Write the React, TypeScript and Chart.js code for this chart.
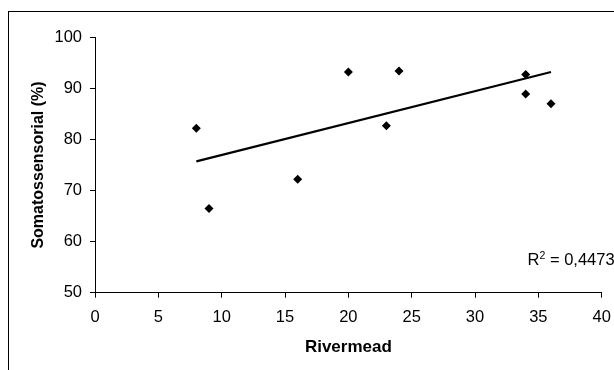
import React, { useEffect, useRef } from "react";
import { Chart, registerables } from "chart.js";

Chart.register(...registerables);

// ---- data ----
const rivermead = [8, 9, 16, 20, 23, 24, 34, 34, 36];
const somatossensorial = [82.2, 66.5, 72.2, 93.2, 82.7, 93.4, 92.7, 88.9, 87.0];
const trendX = [8, 36];
const trendY = [75.7, 93.2];
const xRange = [0, 40];
const xStep = 5;
const yRange = [50, 100];
const yStep = 10;
const xTitle = "Rivermead";
const yTitle = "Somatossensorial (%)";
const r2Value = "0,4473";
const r2Anchor = [34.15, 55.4];

const FONT = '"Liberation Sans", Arial, Helvetica, sans-serif';

export default function App() {
  const ref = useRef<HTMLCanvasElement | null>(null);

  useEffect(() => {
    document.body.style.margin = "0";
    document.body.style.overflow = "hidden";
    document.documentElement.style.overflow = "hidden";
    const canvas = ref.current;
    if (!canvas) return;

    const framePlugin = {
      id: "frame",
      beforeDraw(chart: any) {
        const ctx = chart.ctx;
        ctx.save();
        ctx.strokeStyle = "#000";
        ctx.lineWidth = 1;
        ctx.strokeRect(8.5, 11.5, 800, 600);
        ctx.restore();
      },
    };

    const r2Plugin = {
      id: "r2",
      afterDraw(chart: any) {
        const { ctx } = chart;
        const xs = chart.scales.x;
        const ys = chart.scales.y;
        const px = xs.getPixelForValue(r2Anchor[0]);
        const py = ys.getPixelForValue(r2Anchor[1]);
        ctx.save();
        ctx.fillStyle = "#000";
        ctx.textAlign = "left";
        ctx.textBaseline = "alphabetic";
        ctx.font = `16.5px ${FONT}`;
        ctx.fillText("R", px, py);
        let w = ctx.measureText("R").width;
        ctx.font = `10.5px ${FONT}`;
        ctx.fillText("2", px + w, py - 6);
        w += ctx.measureText("2").width;
        ctx.font = `16.5px ${FONT}`;
        ctx.fillText(" = " + r2Value, px + w, py);
        ctx.restore();
      },
    };

    const chart = new Chart(canvas, {
      type: "scatter",
      data: {
        datasets: [
          {
            type: "scatter",
            data: rivermead.map((x, i) => ({ x, y: somatossensorial[i] })),
            pointStyle: "rectRot",
            pointRadius: 4.5,
            pointBackgroundColor: "#000",
            pointBorderColor: "#000",
            pointBorderWidth: 0,
            order: 1,
          },
          {
            type: "line",
            data: trendX.map((x, i) => ({ x, y: trendY[i] })),
            borderColor: "#000",
            borderWidth: 2.2,
            pointRadius: 0,
            fill: false,
            order: 2,
          } as any,
        ],
      },
      options: {
        responsive: false,
        animation: false,
        events: [],
        layout: { padding: { left: 0, top: 37.3, right: 12.3, bottom: 0 } },
        plugins: {
          legend: { display: false },
          tooltip: { enabled: false },
        },
        scales: {
          x: {
            type: "linear",
            min: xRange[0],
            max: xRange[1],
            afterFit(scale: any) {
              scale.height = 77.3;
              scale.paddingLeft = 0;
              scale.paddingRight = 0;
            },
            ticks: {
              stepSize: xStep,
              color: "#000",
              padding: 10,
              font: { family: FONT, size: 16.5 },
            },
            grid: {
              drawOnChartArea: false,
              drawTicks: true,
              tickLength: 5,
              color: "#000",
            },
            border: { display: true, color: "#000", width: 1 },
            title: {
              display: true,
              text: xTitle,
              color: "#000",
              font: { family: FONT, size: 17, weight: "bold" },
              padding: { top: 0, bottom: 12.6 },
            },
          },
          y: {
            type: "linear",
            min: yRange[0],
            max: yRange[1],
            afterFit(scale: any) {
              scale.width = 95;
              scale.paddingTop = 0;
              scale.paddingBottom = 0;
            },
            ticks: {
              stepSize: yStep,
              color: "#000",
              padding: 8,
              font: { family: FONT, size: 16.5 },
            },
            grid: {
              drawOnChartArea: false,
              drawTicks: true,
              tickLength: 5,
              color: "#000",
            },
            border: { display: true, color: "#000", width: 1 },
            title: {
              display: true,
              text: yTitle,
              color: "#000",
              font: { family: FONT, size: 16, weight: "bold" },
              padding: { top: 29, bottom: 0 },
            },
          },
        },
      },
      plugins: [framePlugin, r2Plugin],
    });

    return () => chart.destroy();
  }, []);

  return (
    <canvas
      ref={ref}
      width={614}
      height={370}
      style={{ display: "block", width: 614, height: 370 }}
    />
  );
}
